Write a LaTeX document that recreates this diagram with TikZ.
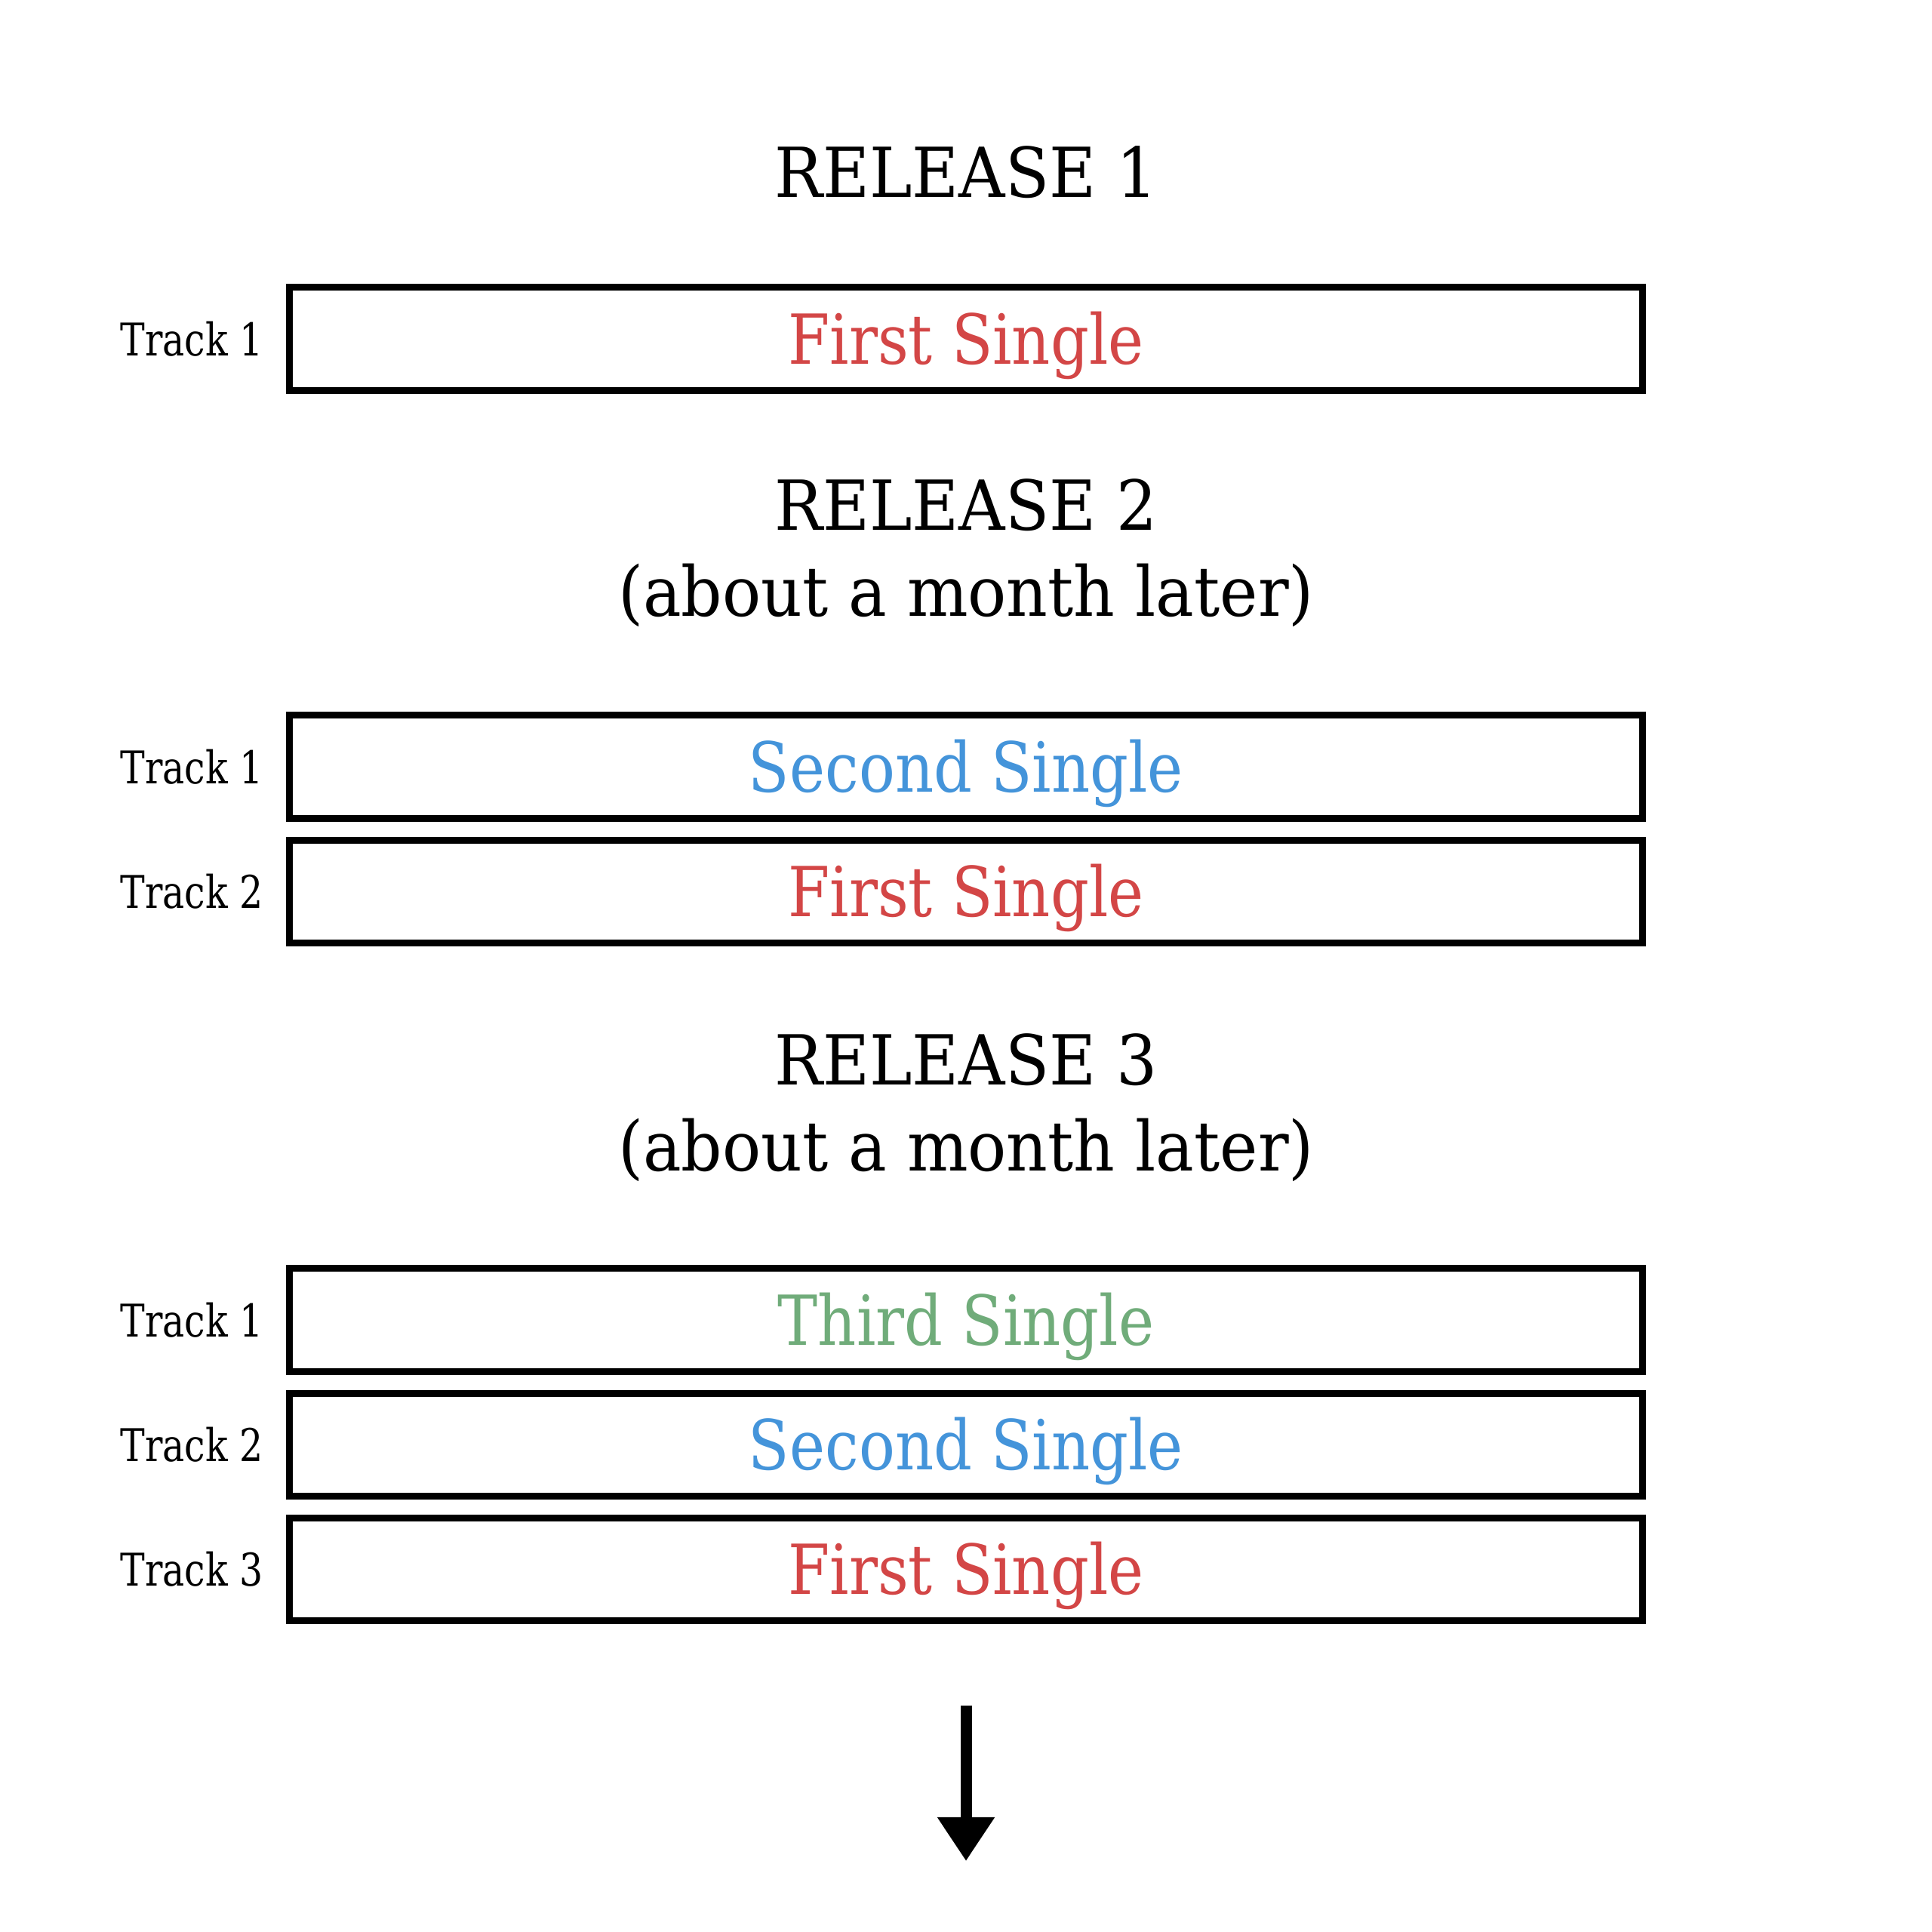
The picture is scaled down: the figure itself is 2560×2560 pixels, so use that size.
\documentclass[tikz,border=0pt]{standalone}
\usepackage{fontspec}
\setmainfont{DejaVu Serif}
\newfontfamily\headfont{DejaVu Serif}[FakeStretch=0.93]
\newfontfamily\singlefont{DejaVu Serif}[FakeStretch=0.87]
\newfontfamily\namefont{DejaVu Serif}[FakeStretch=0.82]
\usepackage{xcolor}
\definecolor{firstred}{RGB}{211,70,70}
\definecolor{secondblue}{RGB}{68,148,218}
\definecolor{thirdgreen}{RGB}{112,172,122}
\usepackage{tikz}
\usetikzlibrary{arrows.meta, positioning}
\tikzset{
  relhead/.style={font=\headfont\fontsize{26}{32.4}\selectfont, align=center, inner sep=0pt},
  trackbox/.style={draw=black, line width=0.09cm,
    minimum width=17.91cm, minimum height=1.36cm, inner sep=0pt,
    text height=0.67cm, text depth=0pt, font=\singlefont\fontsize{26}{30}\selectfont},
  trackname/.style={font=\namefont\fontsize{17}{20}\selectfont, inner sep=0pt,
    text height=0.44cm, text depth=0pt},
  nextarrow/.style={-{Triangle[width=0.72cm, length=0.58cm]}, line width=0.15cm}
}

\begin{document}
\begin{tikzpicture}[x=0.01cm, y=-0.01cm]
    \useasboundingbox (0,0) rectangle (2560,2560);

    % release 1
    \node[relhead, anchor=base] (rel1) at (1280,261) {RELEASE 1};
    \node[trackbox] (r1a) at (1280,449) {\color{firstred}First Single};
    \node[trackname, left=0.3cm of r1a] (n1a) {Track 1};

    % release 2
    \node[relhead, anchor=base] (rel2) at (1280,816) {RELEASE 2\\(about a month later)};
    \node[trackbox] (r2a) at (1280,1016) {\color{secondblue}Second Single};
    \node[trackbox, below=0.2cm of r2a] (r2b) {\color{firstred}First Single};
    \node[trackname, left=0.3cm of r2a] (n2a) {Track 1};
    \node[trackname, left=0.3cm of r2b] (n2b) {Track 2};

    % release 3
    \node[relhead, anchor=base] (rel3) at (1280,1551) {RELEASE 3\\(about a month later)};
    \node[trackbox] (r3a) at (1280,1749) {\color{thirdgreen}Third Single};
    \node[trackbox, below=0.2cm of r3a] (r3b) {\color{secondblue}Second Single};
    \node[trackbox, below=0.2cm of r3b] (r3c) {\color{firstred}First Single};
    \node[trackname, left=0.3cm of r3a] (n3a) {Track 1};
    \node[trackname, left=0.3cm of r3b] (n3b) {Track 2};
    \node[trackname, left=0.3cm of r3c] (n3c) {Track 3};

    % and so on
    \coordinate (arrtop) at (1280,2260);
    \coordinate (arrtip) at (1280,2466);
    \draw[nextarrow] (arrtop) -- (arrtip);
  \end{tikzpicture}
\end{document}
